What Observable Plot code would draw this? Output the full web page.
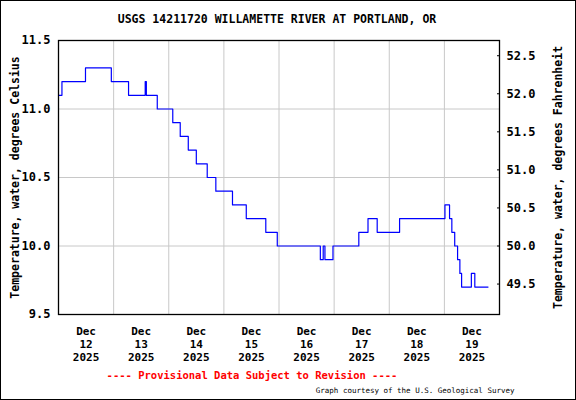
<!DOCTYPE html>
<html><head><meta charset="utf-8">
<script src="https://cdn.jsdelivr.net/npm/d3@7"></script>
<script src="https://cdn.jsdelivr.net/npm/@observablehq/plot@0.6"></script>
<style>
body{margin:0;background:#fff}
#wrap{position:relative;width:576px;height:400px;overflow:hidden}
#border{position:absolute;left:0;top:0;width:576px;height:400px;border:1px solid #000;box-sizing:border-box;pointer-events:none}
svg{display:block}
</style></head><body><div id="wrap"></div>
<script>
const title = "USGS 14211720 WILLAMETTE RIVER AT PORTLAND, OR";
const leftLabel = "Temperature, water, degrees Celsius";
const rightLabel = "Temperature, water, degrees Fahrenheit";
const footer = "---- Provisional Data Subject to Revision ----";
const courtesy = "Graph courtesy of the U.S. Geological Survey";

// change points (step-after), UTC-naive timestamps
const times = [
  "2025-12-12T00:00","2025-12-12T01:30","2025-12-12T11:45","2025-12-12T23:00",
  "2025-12-13T06:30","2025-12-13T13:45","2025-12-13T14:15","2025-12-13T19:00",
  "2025-12-14T01:45","2025-12-14T05:00","2025-12-14T08:30","2025-12-14T12:00",
  "2025-12-14T16:45","2025-12-14T20:30","2025-12-15T03:45","2025-12-15T09:45",
  "2025-12-15T18:15","2025-12-15T23:15","2025-12-16T18:00","2025-12-16T19:15",
  "2025-12-16T20:00","2025-12-16T23:30","2025-12-17T10:45","2025-12-17T14:45",
  "2025-12-17T18:45","2025-12-18T04:30","2025-12-19T00:15","2025-12-19T02:15",
  "2025-12-19T03:15","2025-12-19T04:30","2025-12-19T05:45","2025-12-19T06:45",
  "2025-12-19T07:30","2025-12-19T11:45","2025-12-19T13:15","2025-12-19T19:00"
];
const temps = [
  11.1, 11.2, 11.3, 11.2,
  11.1, 11.2, 11.1, 11.0,
  10.9, 10.8, 10.7, 10.6,
  10.5, 10.4, 10.3, 10.2,
  10.1, 10.0, 9.9, 10.0,
  9.9, 10.0, 10.1, 10.2,
  10.1, 10.2, 10.3, 10.2,
  10.1, 10.0, 9.9, 9.8,
  9.7, 9.8, 9.7, 9.7
];
const celsiusTicks = [9.5, 10.0, 10.5, 11.0, 11.5];
const fahrenheitTicks = [49.5, 50.0, 50.5, 51.0, 51.5, 52.0, 52.5];
const dayGrid = ["2025-12-13","2025-12-14","2025-12-15","2025-12-16","2025-12-17","2025-12-18","2025-12-19"];
const dayLabels = ["2025-12-12","2025-12-13","2025-12-14","2025-12-15","2025-12-16","2025-12-17","2025-12-18","2025-12-19"];
const xDomain = ["2025-12-12T00:00","2025-12-20T00:00"];
const yDomain = [9.5, 11.5];

const utc = s => new Date(s.length === 10 ? s + "T00:00Z" : s + "Z");
const data = times.map((t, i) => ({date: utc(t), temp: temps[i]}));
const f2c = f => (f - 32) / 1.8;
const c2f = c => c * 1.8 + 32;
const months = ["Jan","Feb","Mar","Apr","May","Jun","Jul","Aug","Sep","Oct","Nov","Dec"];
const noon = s => new Date(utc(s).getTime() + 12 * 3600e3);

const font = "DejaVu Sans Mono";
const chart = Plot.plot({
  width: 576,
  height: 400,
  marginLeft: 58,
  marginRight: 77,
  marginTop: 40,
  marginBottom: 86,
  style: {fontFamily: font, fontWeight: "bold", fontSize: "11px", background: "#fff", color: "#000"},
  x: {type: "utc", domain: xDomain.map(utc)},
  y: {domain: yDomain},
  marks: [
    Plot.gridX(dayGrid.map(utc), {stroke: "#c8c8c8", strokeOpacity: 1}),
    Plot.gridY([10.0, 10.5, 11.0], {stroke: "#c8c8c8", strokeOpacity: 1}),
    Plot.line(data, {x: "date", y: "temp", curve: "step-after", stroke: "#0000ff", strokeWidth: 1.2}),
    Plot.frame({stroke: "#000", strokeWidth: 1.3}),
    Plot.axisY(celsiusTicks, {anchor: "left", tickSize: 0, tickPadding: 8, fontSize: 12,
      tickFormat: d => d.toFixed(1), label: null}),
    Plot.axisY(fahrenheitTicks.map(f2c), {anchor: "right", tickSize: 3, dx: -3, text: null, label: null}),
    Plot.axisY(fahrenheitTicks.map(f2c), {anchor: "right", tickSize: 0, tickPadding: 7, fontSize: 12,
      tickFormat: d => c2f(d).toFixed(1), label: null}),
    Plot.axisX(dayLabels.map(noon), {anchor: "bottom", tickSize: 0, tickPadding: 11, lineHeight: 1.2,
      fontSize: 11, tickFormat: d => `${months[d.getUTCMonth()]}\n${d.getUTCDate()}\n${d.getUTCFullYear()}`, label: null}),
    Plot.text([title], {text: d => d, frameAnchor: "top", dx: -2, dy: -21, lineAnchor: "middle", fontSize: 11.5}),
    Plot.text([leftLabel], {text: d => d, frameAnchor: "left", textAnchor: "middle", dx: -43, lineAnchor: "middle", rotate: -90, fontSize: 11.5}),
    Plot.text([rightLabel], {text: d => d, frameAnchor: "right", textAnchor: "middle", dx: 59, lineAnchor: "middle", rotate: -90, fontSize: 11.5}),
    Plot.text([footer], {text: d => d, frameAnchor: "bottom", dx: -27, dy: 61, lineAnchor: "middle", fill: "#ff0000", fontSize: 10.5}),
    Plot.text([courtesy], {text: d => d, frameAnchor: "bottom-right", textAnchor: "end", dx: 15, dy: 76, lineAnchor: "middle", fontSize: 7.5, fontWeight: "normal"})
  ]
});
const wrap = document.getElementById("wrap");
wrap.appendChild(chart);
const b = document.createElement("div");
b.id = "border";
wrap.appendChild(b);
</script>
</body></html>
